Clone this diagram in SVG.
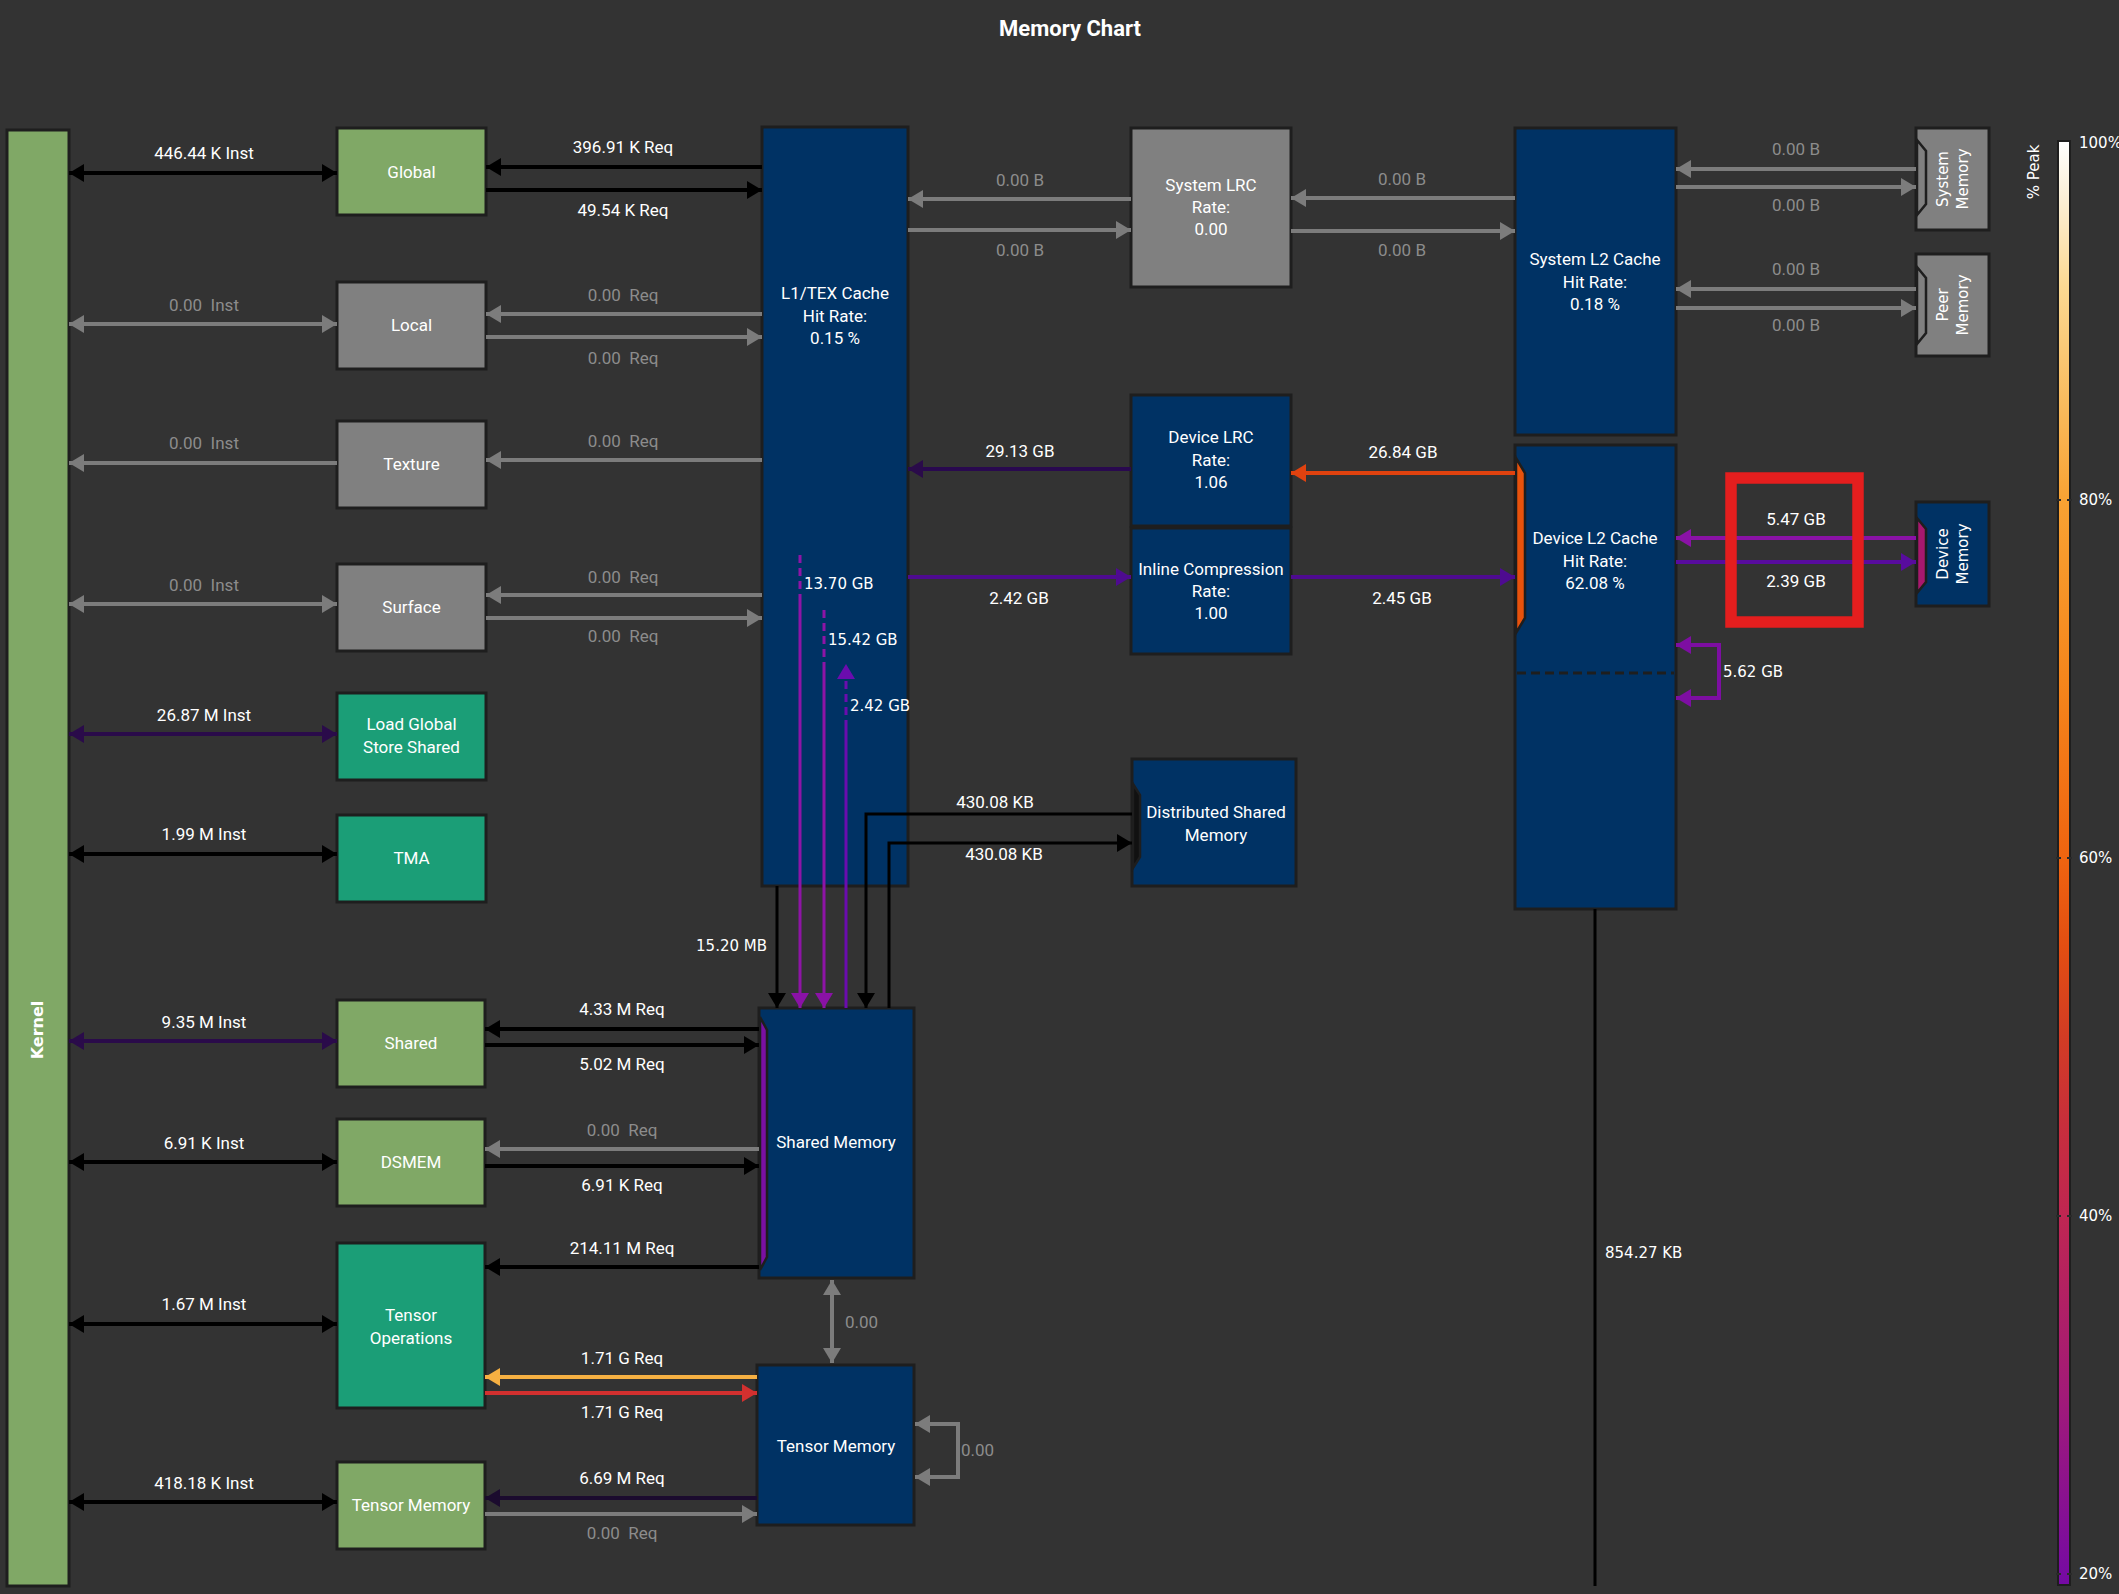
<svg xmlns="http://www.w3.org/2000/svg" width="2119" height="1594" viewBox="0 0 2119 1594">
<style>
.bg{fill:#333333}
.n{stroke:#1e1e1e;stroke-width:3}
.blue{fill:#003264}.green{fill:#80a866}.teal{fill:#1b9e77}.gray{fill:#808080}
.t{font-family:Roboto,"Liberation Sans",sans-serif;font-size:17px;fill:#ffffff;text-anchor:middle;dominant-baseline:central;white-space:pre}
.g{fill:#8c8c8c}
.dv{font-family:"DejaVu Sans","Liberation Sans",sans-serif;font-size:15px;fill:#ffffff;dominant-baseline:central;white-space:pre}
.c{fill:none;stroke-width:4}
.k{stroke:#000000}.gr{stroke:#7c7c7c}
.notch{stroke:#1e1e1e;stroke-width:2.5}
</style>
<defs>
<marker id="mk" viewBox="0 0 15 18" refX="15" refY="9" markerWidth="15" markerHeight="18" markerUnits="userSpaceOnUse" orient="auto-start-reverse"><path d="M0,0 L15,9 L0,18 Z" fill="#000000"/></marker>
<marker id="mg" viewBox="0 0 15 18" refX="15" refY="9" markerWidth="15" markerHeight="18" markerUnits="userSpaceOnUse" orient="auto-start-reverse"><path d="M0,0 L15,9 L0,18 Z" fill="#7c7c7c"/></marker>
<marker id="mdp" viewBox="0 0 15 18" refX="15" refY="9" markerWidth="15" markerHeight="18" markerUnits="userSpaceOnUse" orient="auto-start-reverse"><path d="M0,0 L15,9 L0,18 Z" fill="#2a0b4a"/></marker>
<marker id="mp" viewBox="0 0 15 18" refX="15" refY="9" markerWidth="15" markerHeight="18" markerUnits="userSpaceOnUse" orient="auto-start-reverse"><path d="M0,0 L15,9 L0,18 Z" fill="#4e0b90"/></marker>
<marker id="mp2" viewBox="0 0 15 18" refX="15" refY="9" markerWidth="15" markerHeight="18" markerUnits="userSpaceOnUse" orient="auto-start-reverse"><path d="M0,0 L15,9 L0,18 Z" fill="#580c9e"/></marker>
<marker id="mv" viewBox="0 0 15 18" refX="15" refY="9" markerWidth="15" markerHeight="18" markerUnits="userSpaceOnUse" orient="auto-start-reverse"><path d="M0,0 L15,9 L0,18 Z" fill="#8a12a6"/></marker>
<marker id="mv2" viewBox="0 0 15 18" refX="15" refY="9" markerWidth="15" markerHeight="18" markerUnits="userSpaceOnUse" orient="auto-start-reverse"><path d="M0,0 L15,9 L0,18 Z" fill="#6a0cae"/></marker>
<marker id="mv3" viewBox="0 0 15 18" refX="15" refY="9" markerWidth="15" markerHeight="18" markerUnits="userSpaceOnUse" orient="auto-start-reverse"><path d="M0,0 L15,9 L0,18 Z" fill="#7d0ea2"/></marker>
<marker id="mor" viewBox="0 0 15 18" refX="15" refY="9" markerWidth="15" markerHeight="18" markerUnits="userSpaceOnUse" orient="auto-start-reverse"><path d="M0,0 L15,9 L0,18 Z" fill="#e0420f"/></marker>
<marker id="my" viewBox="0 0 15 18" refX="15" refY="9" markerWidth="15" markerHeight="18" markerUnits="userSpaceOnUse" orient="auto-start-reverse"><path d="M0,0 L15,9 L0,18 Z" fill="#f6b042"/></marker>
<marker id="mr" viewBox="0 0 15 18" refX="15" refY="9" markerWidth="15" markerHeight="18" markerUnits="userSpaceOnUse" orient="auto-start-reverse"><path d="M0,0 L15,9 L0,18 Z" fill="#d2302f"/></marker>
<marker id="mnv" viewBox="0 0 15 18" refX="15" refY="9" markerWidth="15" markerHeight="18" markerUnits="userSpaceOnUse" orient="auto-start-reverse"><path d="M0,0 L15,9 L0,18 Z" fill="#1b0b2e"/></marker>
<linearGradient id="peak" gradientUnits="userSpaceOnUse" x1="0" y1="141" x2="0" y2="1585">
<stop offset="0" stop-color="#ffffff"/>
<stop offset="0.04" stop-color="#fbefd6"/>
<stop offset="0.10" stop-color="#fbd993"/>
<stop offset="0.187" stop-color="#f9b95a"/>
<stop offset="0.249" stop-color="#f8a233"/>
<stop offset="0.373" stop-color="#f5861c"/>
<stop offset="0.497" stop-color="#ef6410"/>
<stop offset="0.558" stop-color="#e34e12"/>
<stop offset="0.62" stop-color="#d23c24"/>
<stop offset="0.682" stop-color="#c82e3c"/>
<stop offset="0.744" stop-color="#bf2652"/>
<stop offset="0.869" stop-color="#a21a78"/>
<stop offset="1" stop-color="#740aa4"/>
</linearGradient>
</defs>
<rect class="bg" x="0" y="0" width="2119" height="1594"/>
<text class="t" x="1070" y="28" style="font-size:22px;font-weight:bold">Memory Chart</text>

<g id="kernel"><rect class="n green" x="7" y="130" width="62" height="1456"/>
<text class="dv" transform="translate(37,1030) rotate(-90)" style="text-anchor:middle;font-size:16px;font-weight:bold">Kernel</text></g>
<g id="global"><rect class="n green" x="337" y="128" width="149" height="87"/><text class="t" x="411.5" y="171.5">Global</text></g>
<g id="local"><rect class="n gray" x="337" y="282" width="149" height="87"/><text class="t" x="411.5" y="325">Local</text></g>
<g id="texture"><rect class="n gray" x="337" y="421" width="149" height="87"/><text class="t" x="411.5" y="464">Texture</text></g>
<g id="surface"><rect class="n gray" x="337" y="564" width="149" height="87"/><text class="t" x="411.5" y="607">Surface</text></g>
<g id="lgss"><rect class="n teal" x="337" y="693" width="149" height="87"/><text class="t" x="411.5" y="724">Load Global</text><text class="t" x="411.5" y="747">Store Shared</text></g>
<g id="tma"><rect class="n teal" x="337" y="815" width="149" height="87"/><text class="t" x="411.5" y="858">TMA</text></g>
<g id="shared"><rect class="n green" x="337" y="1000" width="148" height="87"/><text class="t" x="411" y="1043">Shared</text></g>
<g id="dsmem"><rect class="n green" x="337" y="1119" width="148" height="87"/><text class="t" x="411" y="1162">DSMEM</text></g>
<g id="tensor-ops"><rect class="n teal" x="337" y="1243" width="148" height="165"/><text class="t" x="411" y="1315">Tensor</text><text class="t" x="411" y="1338">Operations</text></g>
<g id="tensor-memory-inst"><rect class="n green" x="337" y="1462" width="148" height="87"/><text class="t" x="411" y="1505">Tensor Memory</text></g>

<g id="l1tex"><rect class="n blue" x="762" y="127" width="146" height="759"/><text class="t" x="835" y="293">L1/TEX Cache</text><text class="t" x="835" y="316">Hit Rate:</text><text class="t" x="835" y="338">0.15 %</text></g>
<g id="system-lrc"><rect class="n gray" x="1131" y="128" width="160" height="159"/><text class="t" x="1211" y="185">System LRC</text><text class="t" x="1211" y="207">Rate:</text><text class="t" x="1211" y="229">0.00</text></g>
<g id="device-lrc"><rect class="n blue" x="1131" y="395" width="160" height="131"/><text class="t" x="1211" y="437">Device LRC</text><text class="t" x="1211" y="460">Rate:</text><text class="t" x="1211" y="482">1.06</text></g>
<g id="inline-compression"><rect class="n blue" x="1131" y="528" width="160" height="126"/><text class="t" x="1211" y="569">Inline Compression</text><text class="t" x="1211" y="591">Rate:</text><text class="t" x="1211" y="613">1.00</text></g>
<g id="system-l2"><rect class="n blue" x="1515" y="128" width="161" height="307"/><text class="t" x="1595" y="259">System L2 Cache</text><text class="t" x="1595" y="282">Hit Rate:</text><text class="t" x="1595" y="304">0.18 %</text></g>
<g id="device-l2"><rect class="n blue" x="1515" y="445" width="161" height="464"/>
<line x1="1517" y1="673" x2="1674" y2="673" stroke="#1e1e1e" stroke-width="3" stroke-dasharray="9 5"/>
<polygon class="notch" points="1516,458 1525,473 1525,618 1516,633" fill="#e8520c"/>
<text class="t" x="1595" y="538">Device L2 Cache</text><text class="t" x="1595" y="561">Hit Rate:</text><text class="t" x="1595" y="583">62.08 %</text></g>
<g id="system-memory"><rect class="n gray" x="1916" y="128" width="73" height="102"/>
<polygon class="notch" points="1917,140 1926,151 1926,204 1917,215" fill="#808080"/>
<text class="dv" transform="translate(1953,179) rotate(-90)" style="text-anchor:middle"><tspan x="0" y="-10">System</tspan><tspan x="0" y="10">Memory</tspan></text></g>
<g id="peer-memory"><rect class="n gray" x="1916" y="254" width="73" height="102"/>
<polygon class="notch" points="1917,267 1926,278 1926,333 1917,344" fill="#808080"/>
<text class="dv" transform="translate(1953,305) rotate(-90)" style="text-anchor:middle"><tspan x="0" y="-10">Peer</tspan><tspan x="0" y="10">Memory</tspan></text></g>
<g id="device-memory"><rect class="n blue" x="1916" y="502" width="73" height="104"/>
<polygon class="notch" points="1917,518 1926,529 1926,582 1917,593" fill="#a8186e"/>
<text class="dv" transform="translate(1953,554) rotate(-90)" style="text-anchor:middle"><tspan x="0" y="-10">Device</tspan><tspan x="0" y="10">Memory</tspan></text></g>
<g id="distributed-shared-memory"><rect class="n blue" x="1132" y="759" width="164" height="127"/>
<polygon class="notch" points="1133,784 1140,795 1140,857 1133,868" fill="#111111"/>
<text class="t" x="1216" y="812">Distributed Shared</text><text class="t" x="1216" y="835">Memory</text></g>
<g id="shared-memory"><rect class="n blue" x="759" y="1008" width="155" height="270"/>
<polygon class="notch" points="760,1017 767,1030 767,1257 760,1270" fill="#7a10a2"/>
<text class="t" x="836" y="1142">Shared Memory</text></g>
<g id="tensor-memory"><rect class="n blue" x="757" y="1365" width="157" height="160"/><text class="t" x="836" y="1446">Tensor Memory</text></g>

<g id="connectors">
<path class="c k" d="M69,173 H337" marker-start="url(#mk)" marker-end="url(#mk)"/>
<path class="c gr" d="M69,324 H337" marker-start="url(#mg)" marker-end="url(#mg)"/>
<path class="c gr" d="M337,463 H69" marker-end="url(#mg)"/>
<path class="c gr" d="M69,604 H337" marker-start="url(#mg)" marker-end="url(#mg)"/>
<path class="c" style="stroke:#2a0b4a" d="M69,734 H337" marker-start="url(#mdp)" marker-end="url(#mdp)"/>
<path class="c k" d="M69,854 H337" marker-start="url(#mk)" marker-end="url(#mk)"/>
<path class="c" style="stroke:#2a0b4a" d="M69,1041 H337" marker-start="url(#mdp)" marker-end="url(#mdp)"/>
<path class="c k" d="M69,1162 H337" marker-start="url(#mk)" marker-end="url(#mk)"/>
<path class="c k" d="M69,1324 H337" marker-start="url(#mk)" marker-end="url(#mk)"/>
<path class="c k" d="M69,1502 H337" marker-start="url(#mk)" marker-end="url(#mk)"/>
<text class="t" x="204" y="153">446.44 K Inst</text>
<text class="t g" x="204" y="305">0.00  Inst</text>
<text class="t g" x="204" y="443">0.00  Inst</text>
<text class="t g" x="204" y="585">0.00  Inst</text>
<text class="t" x="204" y="715">26.87 M Inst</text>
<text class="t" x="204" y="834">1.99 M Inst</text>
<text class="t" x="204" y="1022">9.35 M Inst</text>
<text class="t" x="204" y="1143">6.91 K Inst</text>
<text class="t" x="204" y="1304">1.67 M Inst</text>
<text class="t" x="204" y="1483">418.18 K Inst</text>

<path class="c k" d="M762,167 H486" marker-end="url(#mk)"/>
<path class="c k" d="M486,190 H762" marker-end="url(#mk)"/>
<path class="c gr" d="M762,314 H486" marker-end="url(#mg)"/>
<path class="c gr" d="M486,337 H762" marker-end="url(#mg)"/>
<path class="c gr" d="M762,460 H486" marker-end="url(#mg)"/>
<path class="c gr" d="M762,595 H486" marker-end="url(#mg)"/>
<path class="c gr" d="M486,618 H762" marker-end="url(#mg)"/>
<text class="t" x="623" y="147">396.91 K Req</text>
<text class="t" x="623" y="210">49.54 K Req</text>
<text class="t g" x="623" y="295">0.00  Req</text>
<text class="t g" x="623" y="358">0.00  Req</text>
<text class="t g" x="623" y="441">0.00  Req</text>
<text class="t g" x="623" y="577">0.00  Req</text>
<text class="t g" x="623" y="636">0.00  Req</text>

<path class="c gr" d="M1131,199 H908" marker-end="url(#mg)"/>
<path class="c gr" d="M908,230 H1131" marker-end="url(#mg)"/>
<path class="c gr" d="M1515,198 H1291" marker-end="url(#mg)"/>
<path class="c gr" d="M1291,231 H1515" marker-end="url(#mg)"/>
<path class="c gr" d="M1916,169 H1676" marker-end="url(#mg)"/>
<path class="c gr" d="M1676,187 H1916" marker-end="url(#mg)"/>
<path class="c gr" d="M1916,289 H1676" marker-end="url(#mg)"/>
<path class="c gr" d="M1676,308 H1916" marker-end="url(#mg)"/>
<text class="t g" x="1020" y="180">0.00 B</text>
<text class="t g" x="1020" y="250">0.00 B</text>
<text class="t g" x="1402" y="179">0.00 B</text>
<text class="t g" x="1402" y="250">0.00 B</text>
<text class="t g" x="1796" y="149">0.00 B</text>
<text class="t g" x="1796" y="205">0.00 B</text>
<text class="t g" x="1796" y="269">0.00 B</text>
<text class="t g" x="1796" y="325">0.00 B</text>

<path class="c" style="stroke:#29094f" d="M1131,469 H908" marker-end="url(#mdp)"/>
<path class="c" style="stroke:#e0420f" d="M1515,473 H1291" marker-end="url(#mor)"/>
<path class="c" style="stroke:#4e0b90" d="M908,577 H1131" marker-end="url(#mp)"/>
<path class="c" style="stroke:#4e0b90" d="M1291,577 H1515" marker-end="url(#mp)"/>
<path class="c" style="stroke:#8a12a6" d="M1916,538 H1676" marker-end="url(#mv)"/>
<path class="c" style="stroke:#580c9e" d="M1676,562 H1916" marker-end="url(#mp2)"/>
<path class="c" style="stroke:#7d0ea2" d="M1676,645 H1719 V698 H1676" marker-start="url(#mv3)" marker-end="url(#mv3)"/>
<text class="t" x="1020" y="451">29.13 GB</text>
<text class="t" x="1403" y="452">26.84 GB</text>
<text class="t" x="1019" y="598">2.42 GB</text>
<text class="t" x="1402" y="598">2.45 GB</text>
<text class="t" x="1796" y="519">5.47 GB</text>
<text class="t" x="1796" y="581">2.39 GB</text>
<text class="dv" x="1723" y="672">5.62 GB</text>
<path class="c k" style="stroke-width:3" d="M1595,909 V1586"/>
<text class="dv" x="1605" y="1253">854.27 KB</text>

<path class="c k" style="stroke-width:3" d="M777,886 V1008" marker-end="url(#mk)"/>
<text class="dv" x="767" y="946" style="text-anchor:end">15.20 MB</text>
<path class="c" style="stroke:#8e14a6;stroke-width:3;stroke-dasharray:8 5" d="M800,555 V601"/>
<path class="c" style="stroke:#8e14a6;stroke-width:3" d="M800,601 V1008" marker-end="url(#mv)"/>
<text class="dv" x="804" y="584">13.70 GB</text>
<path class="c" style="stroke:#8e14a6;stroke-width:3;stroke-dasharray:8 5" d="M824,610 V662"/>
<path class="c" style="stroke:#8e14a6;stroke-width:3" d="M824,662 V1008" marker-end="url(#mv)"/>
<text class="dv" x="828" y="640">15.42 GB</text>
<path class="c" style="stroke:#6a0cae;stroke-width:3" d="M846,1008 V728"/>
<path class="c" style="stroke:#6a0cae;stroke-width:3;stroke-dasharray:8 5" d="M846,728 V664" marker-end="url(#mv2)"/>
<text class="dv" x="850" y="706">2.42 GB</text>
<path class="c k" style="stroke-width:3" d="M1132,814 H866 V1008" marker-end="url(#mk)"/>
<path class="c k" style="stroke-width:3" d="M889,1008 V843 H1132" marker-end="url(#mk)"/>
<text class="t" x="995" y="802">430.08 KB</text>
<text class="t" x="1004" y="854">430.08 KB</text>

<path class="c k" d="M759,1029 H485" marker-end="url(#mk)"/>
<path class="c k" d="M485,1045 H759" marker-end="url(#mk)"/>
<path class="c gr" d="M759,1149 H485" marker-end="url(#mg)"/>
<path class="c k" d="M485,1166 H759" marker-end="url(#mk)"/>
<path class="c k" d="M759,1267 H485" marker-end="url(#mk)"/>
<path class="c" style="stroke:#f6b042" d="M757,1377 H485" marker-end="url(#my)"/>
<path class="c" style="stroke:#d2302f" d="M485,1393 H757" marker-end="url(#mr)"/>
<path class="c" style="stroke:#1b0b2e" d="M757,1498 H485" marker-end="url(#mnv)"/>
<path class="c gr" d="M485,1514 H757" marker-end="url(#mg)"/>
<path class="c gr" d="M832,1280 V1363" marker-start="url(#mg)" marker-end="url(#mg)"/>
<path class="c gr" d="M915,1424 H958 V1477 H915" marker-start="url(#mg)" marker-end="url(#mg)"/>
<text class="t" x="622" y="1009">4.33 M Req</text>
<text class="t" x="622" y="1064">5.02 M Req</text>
<text class="t g" x="622" y="1130">0.00  Req</text>
<text class="t" x="622" y="1185">6.91 K Req</text>
<text class="t" x="622" y="1248">214.11 M Req</text>
<text class="t" x="622" y="1358">1.71 G Req</text>
<text class="t" x="622" y="1412">1.71 G Req</text>
<text class="t" x="622" y="1478">6.69 M Req</text>
<text class="t g" x="622" y="1533">0.00  Req</text>
<text class="t g" x="845" y="1322" style="text-anchor:start">0.00</text>
<text class="t g" x="961" y="1450" style="text-anchor:start">0.00</text>
</g>

<g id="highlight"><rect x="1731" y="478" width="127" height="144" fill="none" stroke="#e41e1e" stroke-width="11.5"/></g>

<g id="legend">
<rect x="2058" y="141" width="12" height="1444" fill="url(#peak)" stroke="#1e1e1e" stroke-width="2"/>
<path d="M2056,500 h5 M2067,500 h5 M2056,858 h5 M2067,858 h5 M2056,1216 h5 M2067,1216 h5 M2056,1574 h5 M2067,1574 h5" stroke="#2a2a2a" stroke-width="2"/>
<text class="dv" x="2079" y="143">100%</text>
<text class="dv" x="2079" y="500">80%</text>
<text class="dv" x="2079" y="858">60%</text>
<text class="dv" x="2079" y="1216">40%</text>
<text class="dv" x="2079" y="1574">20%</text>
<text class="dv" transform="translate(2034,172) rotate(-90)" style="text-anchor:middle">% Peak</text>
</g>
</svg>
